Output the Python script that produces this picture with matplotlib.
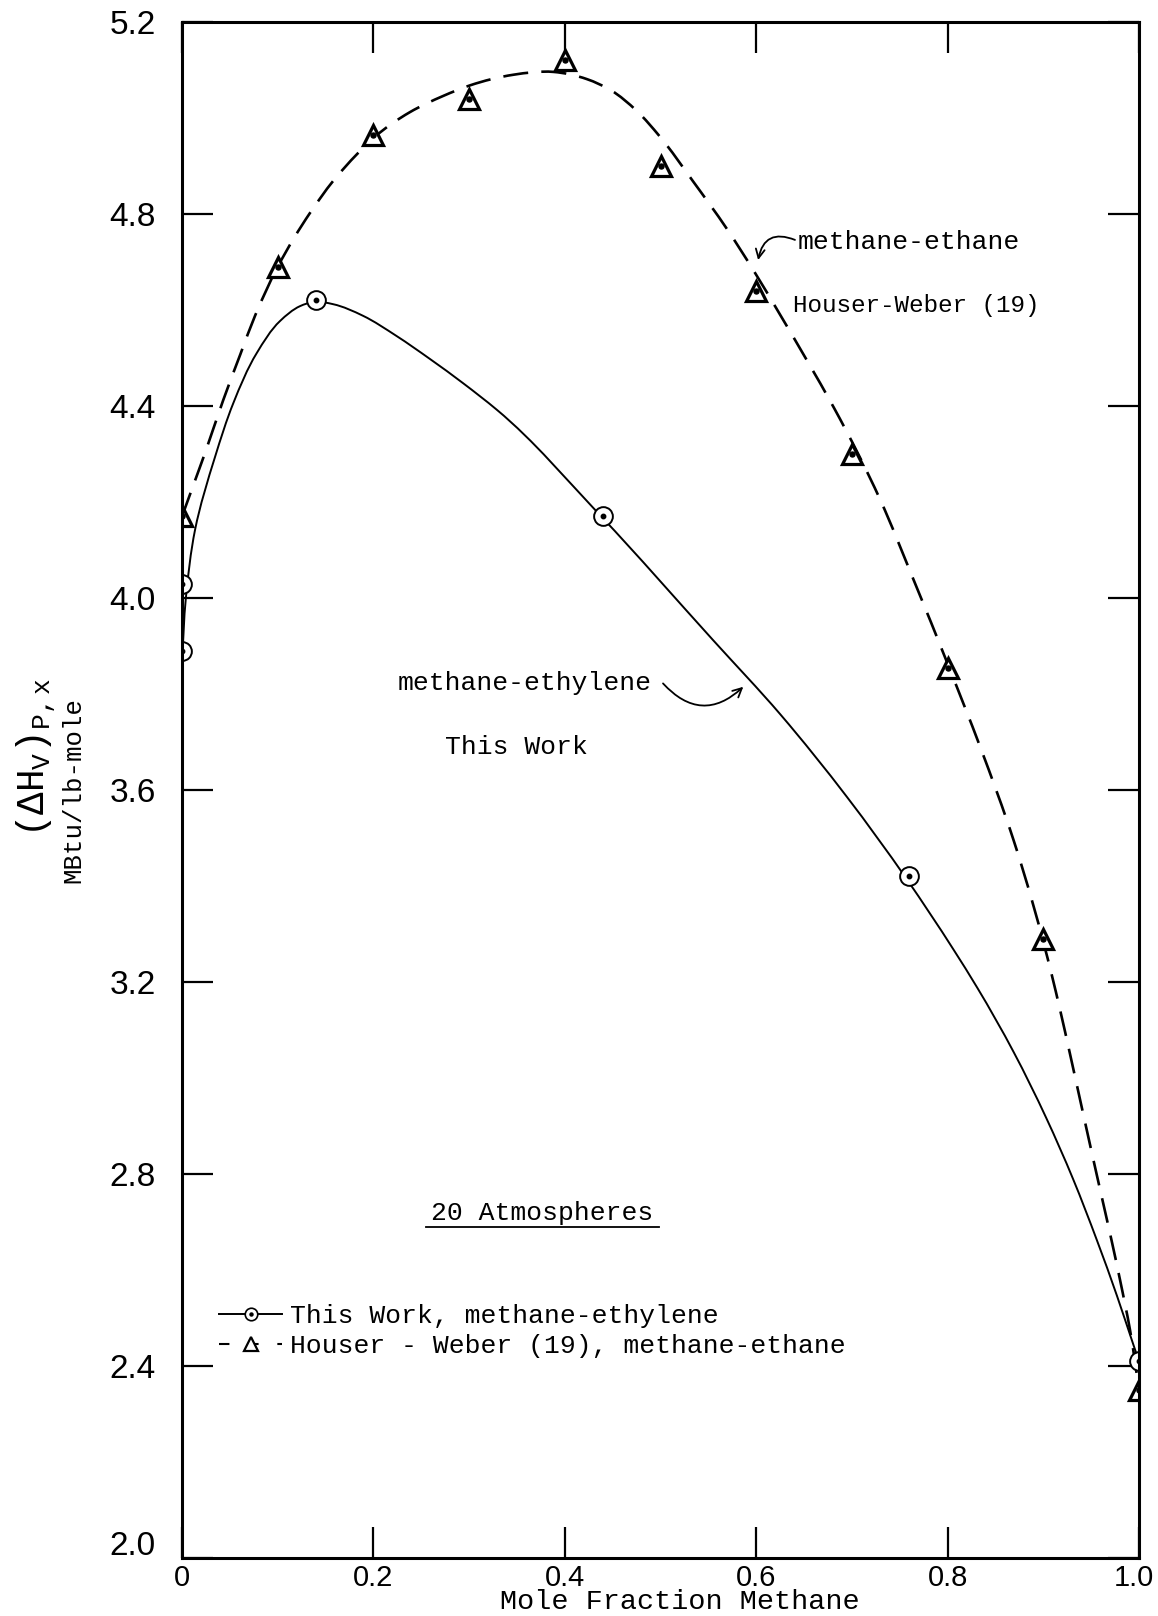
import math
import matplotlib
matplotlib.use("Agg")
import matplotlib.pyplot as plt
from matplotlib.lines import Line2D
from matplotlib.path import Path
from matplotlib.patches import PathPatch
from matplotlib.transforms import ScaledTranslation

# ---------------------------------------------------------------------------
# Data
# ---------------------------------------------------------------------------
# This Work: methane-ethylene, latent heat at 20 atm (MBtu/lb-mole)
x_ethylene = [0.0, 0.0, 0.14, 0.44, 0.76, 1.0]
y_ethylene = [3.89, 4.03, 4.62, 4.17, 3.42, 2.41]

# Houser-Weber (19): methane-ethane
x_ethane = [0.0, 0.1, 0.2, 0.3, 0.4, 0.5, 0.6, 0.7, 0.8, 0.9, 1.0]
y_ethane = [4.17, 4.69, 4.965, 5.04, 5.12, 4.90, 4.64, 4.30, 3.855, 3.29, 2.35]

# Knots of the hand-faired curve through the methane-ethylene points
curve_ethylene_x = [0.0, 0.004, 0.0136, 0.0345, 0.0536, 0.078, 0.1024, 0.1233,
                    0.138, 0.158, 0.189, 0.224, 0.259, 0.294, 0.329,
                    0.437, 0.555, 0.625, 0.695, 0.757, 0.806, 0.831,
                    0.869, 0.903, 0.931, 0.956, 0.977, 0.994, 1.0]
curve_ethylene_y = [3.87, 4.00, 4.142, 4.294, 4.406, 4.510, 4.577, 4.608,
                    4.617, 4.612, 4.588, 4.546, 4.498, 4.447, 4.392,
                    4.172, 3.912, 3.758, 3.585, 3.415, 3.268, 3.188,
                    3.054, 2.917, 2.790, 2.662, 2.546, 2.445, 2.41]

# Knots of the hand-faired curve through the methane-ethane points
curve_ethane_x = [0.0, 0.012, 0.024, 0.043, 0.061, 0.0763, 0.100, 0.117, 0.134,
                  0.158, 0.183, 0.201, 0.238, 0.273, 0.301, 0.346, 0.388,
                  0.423, 0.448, 0.475, 0.499, 0.534, 0.569, 0.597, 0.625,
                  0.653, 0.681, 0.7295, 0.764, 0.801, 0.834, 0.869, 0.9088,
                  0.9174, 0.9279, 0.9384, 0.9506, 0.9611, 0.9715, 0.9802,
                  0.9906, 1.0]
curve_ethane_y = [4.17, 4.236, 4.302, 4.412, 4.508, 4.588, 4.690, 4.750, 4.803,
                  4.869, 4.925, 4.960, 5.012, 5.046, 5.068, 5.090, 5.096,
                  5.081, 5.058, 5.015, 4.962, 4.868, 4.770, 4.683, 4.590,
                  4.495, 4.397, 4.205, 4.040, 3.858, 3.690, 3.495, 3.215,
                  3.143, 3.050, 2.955, 2.845, 2.752, 2.660, 2.579,
                  2.475, 2.35]

x_ticks = [0.0, 0.2, 0.4, 0.6, 0.8, 1.0]
x_tick_labels = ["0", "0.2", "0.4", "0.6", "0.8", "1.0"]
y_ticks = [2.0, 2.4, 2.8, 3.2, 3.6, 4.0, 4.4, 4.8, 5.2]
y_tick_labels = ["2.0", "2.4", "2.8", "3.2", "3.6", "4.0", "4.4", "4.8", "5.2"]

# ---------------------------------------------------------------------------
# Style
# ---------------------------------------------------------------------------
MONO = "Liberation Mono"
TICKFONT = "Liberation Sans"
plt.rcParams["font.family"] = [MONO, "DejaVu Sans"]
plt.rcParams["mathtext.fontset"] = "custom"
for key in ("rm", "it", "bf", "sf", "tt", "cal"):
    plt.rcParams["mathtext." + key] = MONO

# relative size of one x unit vs one y unit on the page (for chord lengths)
X_SCALE, Y_SCALE = 957.0, 480.0


def faired_path(xs, ys):
    """Smooth Hermite curve through the knots (chord-length parameter),
    returned as cubic Bezier segments."""
    n = len(xs)
    t = [0.0]
    for i in range(1, n):
        d = math.hypot((xs[i] - xs[i - 1]) * X_SCALE, (ys[i] - ys[i - 1]) * Y_SCALE)
        t.append(t[-1] + max(d, 1e-9))
    # tangents (d/dt) from a weighted three-point estimate
    mx, my = [], []
    for i in range(n):
        if i == 0:
            h = t[1] - t[0]
            mx.append((xs[1] - xs[0]) / h)
            my.append((ys[1] - ys[0]) / h)
        elif i == n - 1:
            h = t[-1] - t[-2]
            mx.append((xs[-1] - xs[-2]) / h)
            my.append((ys[-1] - ys[-2]) / h)
        else:
            h0 = t[i] - t[i - 1]
            h1 = t[i + 1] - t[i]
            sx0 = (xs[i] - xs[i - 1]) / h0
            sx1 = (xs[i + 1] - xs[i]) / h1
            sy0 = (ys[i] - ys[i - 1]) / h0
            sy1 = (ys[i + 1] - ys[i]) / h1
            mx.append((sx0 * h1 + sx1 * h0) / (h0 + h1))
            my.append((sy0 * h1 + sy1 * h0) / (h0 + h1))
    verts = [(xs[0], ys[0])]
    codes = [Path.MOVETO]
    for i in range(n - 1):
        h = t[i + 1] - t[i]
        c1 = (xs[i] + mx[i] * h / 3.0, ys[i] + my[i] * h / 3.0)
        c2 = (xs[i + 1] - mx[i + 1] * h / 3.0, ys[i + 1] - my[i + 1] * h / 3.0)
        verts += [c1, c2, (xs[i + 1], ys[i + 1])]
        codes += [Path.CURVE4] * 3
    return Path(verts, codes)


fig = plt.figure(figsize=(11.58, 16.16), dpi=100)
ax = fig.add_axes([0.1572, 0.0359, 0.8264, 0.9505])
ax.set_xlim(0.0, 1.0)
ax.set_ylim(2.0, 5.2)

for sp in ax.spines.values():
    sp.set_linewidth(2.2)

# Curves
ax.add_patch(PathPatch(faired_path(curve_ethylene_x, curve_ethylene_y),
                       fill=False, edgecolor="black", lw=1.4, zorder=2))
ax.add_patch(PathPatch(faired_path(curve_ethane_x, curve_ethane_y),
                       fill=False, edgecolor="black", lw=1.9, zorder=2,
                       linestyle=(0, (9.5, 5))))

# Data points (open symbols with a centre dot)
ax.plot(x_ethylene, y_ethylene, linestyle="none", marker="o", ms=13.5,
        mfc="white", mec="black", mew=1.4, zorder=2.1)
ax.plot(x_ethylene, y_ethylene, linestyle="none", marker="o", ms=3.2,
        color="black", zorder=2.2)
ax.plot(x_ethane, y_ethane, linestyle="none", marker="^", ms=15,
        mfc="white", mec="black", mew=2.3, zorder=2.1)
ax.plot(x_ethane, y_ethane, linestyle="none", marker="o", ms=3.6,
        color="black", zorder=2.2)

# Axes, ticks
ax.set_xticks(x_ticks)
ax.set_xticklabels(x_tick_labels, family=TICKFONT, fontsize=21)
ax.set_yticks(y_ticks)
ax.set_yticklabels(y_tick_labels, family=TICKFONT, fontsize=24)
ax.tick_params(axis="both", direction="in", length=22, width=1.6,
               top=True, right=True)
ax.tick_params(axis="y", pad=19)
ax.tick_params(axis="x", pad=4)

# small hand-set offsets of the end labels
last_x = ax.get_xticklabels()[-1]
last_x.set_transform(last_x.get_transform()
                     + ScaledTranslation(-0.05, 0, fig.dpi_scale_trans))
first_y = ax.get_yticklabels()[0]
first_y.set_transform(first_y.get_transform()
                      + ScaledTranslation(0, 0.15, fig.dpi_scale_trans))

fig.text(680 / 1158, 1 - 1602 / 1616, "Mole Fraction Methane",
         ha="center", va="center", fontsize=20.5, family=MONO)
fig.text(36 / 1158, 1 - 758 / 1616, r"$\mathrm{(\Delta H_V)_{P,x}}$",
         rotation=90, ha="center", va="center", fontsize=27)
fig.text(73 / 1158, 1 - 790 / 1616, "MBtu/lb-mole",
         rotation=90, ha="center", va="center", fontsize=18.5, family=MONO)

# Curve labels
txt = dict(fontsize=19, family=MONO, transform=ax.transAxes, va="center", ha="left")
ax.text(0.643, 0.8568, "methane-ethane", **txt)
ax.text(0.6385, 0.8151, "Houser-Weber (19)", **{**txt, "fontsize": 17.5})
ax.text(0.2257, 0.5697, "methane-ethylene", **txt)
ax.text(0.2748, 0.528, "This Work", **txt)
ax.text(0.260, 0.2246, "20 Atmospheres", **txt)
ax.plot([0.2545, 0.4985], [0.2155, 0.2155], color="black", lw=1.3,
        transform=ax.transAxes, clip_on=False)

arrow = dict(arrowstyle="->", color="black", lw=1.3, mutation_scale=16,
             shrinkA=0, shrinkB=0)
ax.annotate("", xy=(0.602, 4.704), xytext=(0.6405, 4.746),
            arrowprops=dict(connectionstyle="arc3,rad=0.6", **arrow))
ax.annotate("", xy=(0.5865, 3.815), xytext=(0.5026, 3.822),
            arrowprops=dict(connectionstyle="arc3,rad=0.5", **arrow))

# Legend
h_circle = Line2D([], [], color="black", lw=1.4, marker="o", ms=9,
                  mfc="white", mec="black", mew=1.2)
h_cdot = Line2D([], [], linestyle="none", marker="o", ms=2.2, color="black")
h_tri = Line2D([], [], color="black", lw=1.5, marker="^", ms=10,
               mfc="white", mec="black", mew=1.6)
h_tri.set_dashes([5, 9])
ax.legend([(h_circle, h_cdot), h_tri],
          ["This Work, methane-ethylene", "Houser - Weber (19), methane-ethane"],
          loc="upper left", bbox_to_anchor=(0.0387, 0.1651), frameon=False,
          borderpad=0, borderaxespad=0, handlelength=2.4, handletextpad=0.3,
          labelspacing=0.22, numpoints=1, prop={"family": MONO, "size": 19})

fig.savefig("out.png", dpi=100, facecolor="white")
